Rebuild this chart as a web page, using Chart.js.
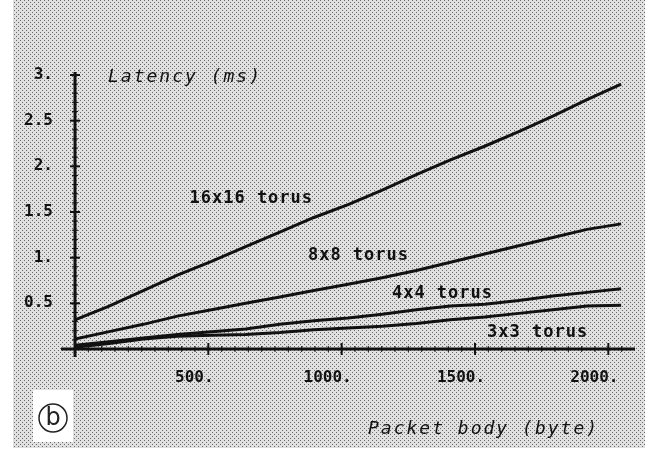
<!DOCTYPE html>
<html>
<head>
  <title>Latency vs packet body</title>
  <script src="https://cdn.jsdelivr.net/npm/chart.js"></script>
  <style>
    body { margin: 0; background: #fff; }
    #wrap { width: 645px; height: 454px; }
  </style>
</head>
<body>
<div id="wrap"><canvas id="latencyChart" width="645" height="454"></canvas></div>

<script>
  // packet body size (byte)
  const bytes = [0, 128, 256, 384, 512, 640, 768, 896, 1024, 1152, 1280, 1408, 1536, 1664, 1792, 1920, 2048];

  // latency (ms)
  const torus16 = [0.32, 0.47, 0.64, 0.81, 0.96, 1.12, 1.28, 1.44, 1.58, 1.74, 1.91, 2.07, 2.22, 2.38, 2.55, 2.73, 2.90];
  const torus8  = [0.11, 0.19, 0.27, 0.36, 0.43, 0.50, 0.57, 0.64, 0.71, 0.78, 0.86, 0.95, 1.04, 1.13, 1.22, 1.31, 1.37];
  const torus4  = [0.04, 0.08, 0.12, 0.16, 0.19, 0.22, 0.27, 0.31, 0.34, 0.38, 0.43, 0.47, 0.49, 0.53, 0.58, 0.62, 0.66];
  const torus3  = [0.02, 0.06, 0.11, 0.14, 0.15, 0.16, 0.18, 0.21, 0.23, 0.25, 0.28, 0.32, 0.35, 0.39, 0.43, 0.47, 0.48];

  const seriesNames = ['16x16 torus', '8x8 torus', '4x4 torus', '3x3 torus'];
  const xTicks = [500, 1000, 1500, 2000];
  const yTicks = [0.5, 1, 1.5, 2, 2.5, 3];

  // where each curve name sits, in data units (byte, ms)
  const nameAt = [[661, 1.65], [1063, 1.02], [1378, 0.61], [1735, 0.18]];

  const mono = '"DejaVu Sans Mono", monospace';

  // halftone screen of the scanned figure
  const tile = document.createElement('canvas');
  tile.width = 4; tile.height = 4;
  const tc = tile.getContext('2d');
  tc.fillStyle = '#e0e0e0';
  tc.fillRect(0, 0, 4, 4);
  tc.fillStyle = '#6a6a6a';
  tc.fillRect(0, 0, 1, 1);
  tc.fillRect(2, 2, 1, 1);

  const backdrop = {
    id: 'backdrop',
    beforeDraw(chart) {
      const c = chart.ctx;
      c.save();
      c.fillStyle = '#fff';
      c.fillRect(0, 0, chart.width, chart.height);
      c.fillStyle = c.createPattern(tile, 'repeat');
      c.fillRect(13, 0, chart.width - 13, 448);
      // the "(b)" panel tag
      c.fillStyle = '#fff';
      c.fillRect(33, 390, 40, 52);
      c.strokeStyle = '#222';
      c.lineWidth = 1.5;
      c.beginPath();
      c.arc(53, 418, 14, 0, Math.PI * 2);
      c.stroke();
      c.fillStyle = '#222';
      c.font = '24px "DejaVu Sans", sans-serif';
      c.textAlign = 'center';
      c.textBaseline = 'middle';
      c.fillText('b', 53, 419);
      c.restore();
    }
  };

  function seg(c, x1, y1, x2, y2) {
    c.beginPath();
    c.moveTo(x1, y1);
    c.lineTo(x2, y2);
    c.stroke();
  }

  const axesAndNotes = {
    id: 'axesAndNotes',
    afterDatasetsDraw(chart) {
      const c = chart.ctx;
      const x = chart.scales.x, y = chart.scales.y;
      const x0 = x.getPixelForValue(0), y0 = y.getPixelForValue(0);
      c.save();
      c.strokeStyle = '#111';
      c.lineWidth = 3;
      seg(c, x0, y.getPixelForValue(3) - 3, x0, y0 + 8);
      seg(c, x0 - 14, y0, x.getPixelForValue(2100), y0);

      c.lineWidth = 2;
      yTicks.forEach(v => { const p = y.getPixelForValue(v); seg(c, x0 - 5, p, x0 + 5, p); });
      xTicks.forEach(v => { const p = x.getPixelForValue(v); seg(c, p, y0 - 6, p, y0 + 6); });

      c.lineWidth = 1;
      for (let v = 0.1; v < 3; v += 0.1) {
        const p = y.getPixelForValue(v);
        seg(c, x0 - 3, p, x0 + 3, p);
      }
      for (let v = 50; v < 2100; v += 50) {
        const p = x.getPixelForValue(v);
        seg(c, p, y0 - 3, p, y0 + 3);
      }

      c.fillStyle = '#111';
      c.textAlign = 'center';
      c.textBaseline = 'middle';
      c.font = 'bold 17px ' + mono;
      c.letterSpacing = '1px';
      seriesNames.forEach((name, i) => {
        c.fillText(name, x.getPixelForValue(nameAt[i][0]), y.getPixelForValue(nameAt[i][1]));
      });

      c.font = 'oblique 18px ' + mono;
      c.letterSpacing = '2px';
      c.textAlign = 'left';
      c.fillText('Latency (ms)', 108, 77);
      c.fillText('Packet body (byte)', 368, 429);
      c.restore();
    }
  };

  const line = (vals) => bytes.map((b, i) => ({ x: b, y: vals[i] }));
  const style = { borderColor: '#111', borderWidth: 3, pointRadius: 0, tension: 0, fill: false };

  new Chart(document.getElementById('latencyChart'), {
    type: 'line',
    data: {
      datasets: [
        Object.assign({ label: seriesNames[0], data: line(torus16) }, style),
        Object.assign({ label: seriesNames[1], data: line(torus8) }, style),
        Object.assign({ label: seriesNames[2], data: line(torus4) }, style),
        Object.assign({ label: seriesNames[3], data: line(torus3) }, style)
      ]
    },
    options: {
      responsive: false,
      animation: false,
      layout: { padding: { top: 75, right: 10, left: 0, bottom: 0 } },
      plugins: { legend: { display: false }, tooltip: { enabled: false } },
      scales: {
        x: {
          type: 'linear',
          min: 0,
          max: 2100,
          grid: { display: false },
          border: { display: false },
          afterFit(s) { s.height = 105; },
          afterBuildTicks(s) { s.ticks = xTicks.map(v => ({ value: v })); },
          ticks: {
            color: '#111',
            padding: 11,
            labelOffset: -14,
            maxRotation: 0,
            font: { family: mono, size: 16, weight: 'bold' },
            callback: v => v + '.'
          }
        },
        y: {
          min: 0,
          max: 3,
          grid: { display: false },
          border: { display: false },
          afterFit(s) { s.width = 75; },
          afterBuildTicks(s) { s.ticks = yTicks.map(v => ({ value: v })); },
          ticks: {
            color: '#111',
            padding: 14,
            font: { family: mono, size: 16, weight: 'bold' },
            callback: v => Number.isInteger(v) ? v + '.' : String(v)
          }
        }
      }
    },
    plugins: [backdrop, axesAndNotes]
  });
</script>
</body>
</html>
